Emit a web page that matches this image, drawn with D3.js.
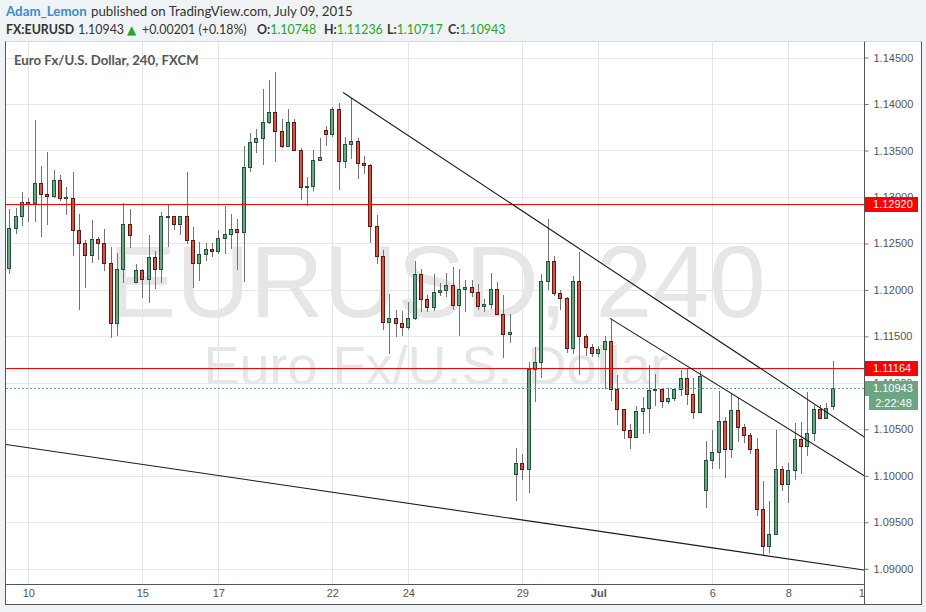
<!DOCTYPE html>
<html><head><meta charset="utf-8">
<script src="https://cdn.jsdelivr.net/npm/d3@7"></script>
<style>
body{margin:0;background:#f0f3f6;}
svg{display:block;}
</style></head><body>
<svg id="c" width="926" height="612"></svg>
<script>
// ---- data (EUR/USD, 240 min candles, FXCM) ----
const open  = [1.1224,1.1267,1.1279,1.1295,1.1293,1.1315,1.1303,1.1301,1.1318,1.1299,1.1299,1.1264,1.1251,1.1238,1.1255,1.1250,1.1229,1.1164,1.1222,1.1271,
 1.1208,1.1221,1.1212,1.1235,1.1222,1.1279,1.1280,1.1271,1.1279,1.1254,1.1229,1.1239,1.1244,1.1242,1.1256,1.1260,1.1265,1.1262,1.1332,1.1359,
 1.1363,1.1381,1.1391,1.1371,1.1355,1.1381,1.1351,1.1311,1.1312,1.1340,1.1372,1.1368,1.1395,1.1339,1.1357,1.1360,1.1337,1.1334,1.1269,1.1236,
 1.1166,1.1170,1.1164,1.1160,1.1170,1.1217,1.1190,1.1182,1.1198,1.1200,1.1205,1.1184,1.1201,1.1203,1.1198,1.1183,1.1185,1.1201,1.1174,1.1153,
 1.1002,1.1014,1.1007,1.1115,1.1122,1.1210,1.1231,1.1197,1.1191,1.1138,1.1210,1.1150,1.1139,1.1132,1.1136,1.1145,1.1093,1.1072,1.1049,1.1042,
 1.1070,1.1073,1.1092,1.1093,1.1080,1.1084,1.1093,1.1105,1.1088,1.1069,1.0985,1.1017,1.1026,1.1059,1.1029,1.1071,1.1052,1.1044,1.1029,1.0964,
 1.0925,1.0937,1.1007,1.0991,1.1006,1.1040,1.1032,1.1046,1.1072,1.1062,1.10748];
const high  = [1.1287,1.1288,1.1305,1.1299,1.1383,1.1333,1.1348,1.1329,1.1324,1.1311,1.1327,1.1282,1.1254,1.1275,1.1257,1.1265,1.1246,1.1240,1.1294,1.1287,
 1.1228,1.1222,1.1259,1.1242,1.1284,1.1292,1.1280,1.1280,1.1327,1.1268,1.1252,1.1250,1.1250,1.1264,1.1290,1.1282,1.1276,1.1355,1.1369,1.1373,
 1.1416,1.1426,1.1434,1.1384,1.1395,1.1384,1.1353,1.1321,1.1350,1.1363,1.1376,1.1397,1.1401,1.1365,1.1407,1.1363,1.1344,1.1336,1.1281,1.1243,
 1.1196,1.1178,1.1177,1.1187,1.1231,1.1222,1.1194,1.1217,1.1207,1.1218,1.1225,1.1222,1.1211,1.1211,1.1206,1.1190,1.1218,1.1209,1.1195,1.1174,
 1.1030,1.1023,1.1122,1.1139,1.1217,1.1276,1.1237,1.1200,1.1192,1.1215,1.1241,1.1153,1.1142,1.1140,1.1150,1.1169,1.1108,1.1072,1.1056,1.1075,
 1.1085,1.1119,1.1110,1.1095,1.1095,1.1095,1.1114,1.1115,1.1105,1.1113,1.1037,1.1049,1.1091,1.1063,1.1088,1.1084,1.1056,1.1046,1.1041,1.0994,
 1.0973,1.1049,1.1011,1.1014,1.1057,1.1058,1.1090,1.1076,1.1076,1.1078,1.11236];
const low   = [1.1218,1.1261,1.1270,1.1274,1.1274,1.1258,1.1271,1.1300,1.1297,1.1282,1.1238,1.1179,1.1203,1.1230,1.1233,1.1221,1.1149,1.1152,1.1209,1.1246,
 1.1208,1.1192,1.1187,1.1202,1.1208,1.1247,1.1265,1.1260,1.1251,1.1203,1.1211,1.1232,1.1236,1.1240,1.1240,1.1245,1.1222,1.1210,1.1328,1.1348,
 1.1336,1.1380,1.1339,1.1354,1.1355,1.1351,1.1298,1.1291,1.1307,1.1340,1.1356,1.1366,1.1309,1.1332,1.1342,1.1320,1.1326,1.1252,1.1229,1.1158,
 1.1132,1.1150,1.1152,1.1158,1.1169,1.1177,1.1177,1.1178,1.1195,1.1193,1.1180,1.1151,1.1177,1.1193,1.1179,1.1177,1.1181,1.1174,1.1128,1.1144,
 1.0974,1.0997,1.0983,1.1080,1.1106,1.1201,1.1194,1.1179,1.1133,1.1132,1.1110,1.1130,1.1129,1.1129,1.1094,1.1082,1.1056,1.1041,1.1030,1.1042,
 1.1046,1.1047,1.1076,1.1074,1.1078,1.1082,1.1087,1.1077,1.1062,1.1069,1.0966,1.1008,1.1008,1.0999,1.1020,1.1037,1.1036,1.1024,1.0958,1.0915,
 1.0918,1.0937,1.0985,1.0972,1.0997,1.1003,1.1022,1.1038,1.1062,1.1062,1.10717];
const close = [1.1267,1.1279,1.1295,1.1292,1.1315,1.1303,1.1301,1.1318,1.1299,1.1300,1.1264,1.1251,1.1238,1.1255,1.1250,1.1229,1.1164,1.1222,1.1271,1.1259,
 1.1221,1.1212,1.1235,1.1222,1.1279,1.1280,1.1271,1.1279,1.1254,1.1229,1.1239,1.1244,1.1242,1.1256,1.1260,1.1265,1.1262,1.1332,1.1359,1.1363,
 1.1381,1.1391,1.1371,1.1355,1.1381,1.1351,1.1311,1.1312,1.1340,1.1343,1.1368,1.1395,1.1339,1.1357,1.1360,1.1337,1.1334,1.1269,1.1236,1.1166,
 1.1170,1.1164,1.1160,1.1170,1.1217,1.1190,1.1182,1.1198,1.1200,1.1205,1.1184,1.1201,1.1203,1.1198,1.1183,1.1185,1.1201,1.1174,1.1153,1.1155,
 1.1014,1.1007,1.1115,1.1122,1.1210,1.1231,1.1197,1.1191,1.1138,1.1210,1.1150,1.1139,1.1132,1.1136,1.1145,1.1093,1.1072,1.1049,1.1042,1.1070,
 1.1073,1.1092,1.1093,1.1080,1.1084,1.1093,1.1105,1.1088,1.1069,1.1107,1.1017,1.1026,1.1059,1.1029,1.1071,1.1052,1.1044,1.1029,1.0964,1.0925,
 1.0937,1.1007,1.0991,1.1006,1.1040,1.1032,1.1046,1.1072,1.1062,1.1073,1.10943];

const dayTickIndex  = [3,21,33,51,63,81,93,111,123,135];
const dayTickLabels = ["10","15","17","22","24","29","Jul","6","8","10"];
const priceTicks = [1.09,1.095,1.10,1.105,1.11,1.115,1.12,1.125,1.13,1.135,1.14,1.145];
const levelPrices = [1.12920, 1.11164];
const lastPrice = 1.10943;
const countdown = "2:22:48";
// trend lines: [[candle index, price],[candle index, price]]
const trendLines = [
  [[52.7, 1.14124],[135, 1.10417]],
  [[94.85,1.11694],[135, 1.10000]],
  [[-1,   1.10342],[135, 1.08986]]
];

// ---- layout ----
const svg = d3.select('#c');
const plot = {l:6, r:864, t:42, b:584};
const FONT = "'Liberation Sans', Arial, sans-serif";
const UI = "Lato, 'Open Sans', sans-serif";
const fmt = d3.format('.5f');

const x = d3.scaleLinear().domain([(plot.l-9.33)/6.333, (plot.r-9.33)/6.333]).range([plot.l, plot.r]);
const y = d3.scaleLinear().domain([1.09, 1.145]).range([568.75, 57.55]);

// header
const h1 = svg.append('text').attr('y',16).attr('font-family',UI).attr('font-size',13.3);
h1.append('tspan').attr('x',6).attr('fill','#3a8ccb').attr('font-weight',700).text('Adam_Lemon');
h1.append('tspan').attr('x',91).attr('fill','#333').text('published on TradingView.com, July 09, 2015');

const h2 = svg.append('text').attr('y',34).attr('font-family',UI).attr('font-size',12.4).attr('fill','#333');
h2.append('tspan').attr('x',6).attr('font-weight',700).text('FX:EURUSD');
h2.append('tspan').attr('x',78).text(fmt(close[130]));
h2.append('tspan').attr('x',127).attr('fill','#26a626').attr('font-family',"'DejaVu Sans'").attr('font-size',12).text('▲');
h2.append('tspan').attr('x',142).text('+0.00201 (+0.18%)');
const ohlcHead = [['O:',open[130],257],['H:',high[130],324],['L:',low[130],387],['C:',close[130],448]];
ohlcHead.forEach(([k,v,px])=>{
  h2.append('tspan').attr('x',px).attr('font-weight',700).text(k);
  h2.append('tspan').attr('fill','#26a626').text(fmt(v));
});

// frame
svg.append('rect').attr('x',5.5).attr('y',41.5).attr('width',916).attr('height',563)
  .attr('fill','#fff').attr('stroke','#555');
svg.append('line').attr('x1',5.5).attr('x2',921.5).attr('y1',41.5).attr('y2',41.5).attr('stroke','#d6dae0');

const defs = svg.append('defs');
defs.append('clipPath').attr('id','pc').append('rect')
  .attr('x',plot.l).attr('y',plot.t).attr('width',plot.r-plot.l).attr('height',plot.b-plot.t);
defs.append('clipPath').attr('id','xc').append('rect')
  .attr('x',0).attr('y',plot.b).attr('width',plot.r+1).attr('height',20);

const pg = svg.append('g').attr('clip-path','url(#pc)');
// grid
pg.selectAll('line.hg').data(priceTicks).join('line').attr('class','hg')
  .attr('x1',plot.l).attr('x2',plot.r)
  .attr('y1',d=>Math.round(y(d))+0.5).attr('y2',d=>Math.round(y(d))+0.5)
  .attr('stroke','#e6e6e6');
pg.selectAll('line.vg').data(dayTickIndex).join('line').attr('class','vg')
  .attr('y1',plot.t).attr('y2',plot.b)
  .attr('x1',d=>Math.round(x(d))+0.5).attr('x2',d=>Math.round(x(d))+0.5)
  .attr('stroke','#e6e6e6');

// watermark
pg.append('text').attr('x',(plot.l+plot.r)/2+2).attr('y',317).attr('text-anchor','middle')
  .attr('font-family',FONT).attr('font-size',102).attr('fill','#e6e6e6').text('EURUSD, 240');
pg.append('text').attr('x',(plot.l+plot.r)/2+1).attr('y',384).attr('text-anchor','middle')
  .attr('font-family',FONT).attr('font-size',54).attr('fill','#e6e6e6').text('Euro Fx/U.S. Dollar');

// candles
const data = open.map((o,i)=>({i,o,h:high[i],l:low[i],c:close[i]}));
pg.selectAll('line.wick').data(data).join('line').attr('class','wick')
  .attr('x1',d=>Math.round(x(d.i))+0.5).attr('x2',d=>Math.round(x(d.i))+0.5)
  .attr('y1',d=>Math.round(y(d.h))).attr('y2',d=>Math.round(y(d.l))+1)
  .attr('stroke','#737375');
pg.selectAll('rect.body').data(data).join('rect').attr('class','body')
  .attr('x',d=>Math.round(x(d.i))-1.5).attr('width',3)
  .attr('y',d=>Math.round(y(Math.max(d.o,d.c)))+0.5)
  .attr('height',d=>Math.max(1, Math.round(y(Math.min(d.o,d.c)))-Math.round(y(Math.max(d.o,d.c)))))
  .attr('fill',d=>d.c>=d.o?'#6ba583':'#d75442')
  .attr('stroke',d=>d.c>=d.o?'#225437':'#5b1a13');

// horizontal level lines (drawings, above candles)
pg.selectAll('rect.lv').data(levelPrices).join('rect').attr('class','lv')
  .attr('x',plot.l).attr('width',plot.r-plot.l)
  .attr('y',d=>Math.round(y(d))).attr('height',1)
  .attr('fill','#ff0000');
pg.append('line').attr('x1',plot.l).attr('x2',plot.r)
  .attr('y1',Math.round(y(lastPrice))+0.5).attr('y2',Math.round(y(lastPrice))+0.5)
  .attr('stroke','#6ba583').attr('stroke-dasharray','2,2');

// trend lines
pg.selectAll('line.tl').data(trendLines).join('line').attr('class','tl')
  .attr('x1',d=>x(d[0][0])).attr('y1',d=>y(d[0][1]))
  .attr('x2',d=>x(d[1][0])).attr('y2',d=>y(d[1][1]))
  .attr('stroke','#1a1a1a').attr('stroke-width',1.1);

// chart title
svg.append('text').attr('x',14).attr('y',65).attr('font-family',UI).attr('font-size',13.2)
  .attr('font-weight',700).attr('fill','#555').text('Euro Fx/U.S. Dollar, 240, FXCM');

// axes
const ya = svg.append('g').attr('transform',`translate(${plot.r+0.5},0)`)
  .call(d3.axisRight(y).tickValues(priceTicks).tickFormat(fmt).tickSize(4).tickPadding(5).tickSizeOuter(0));
ya.select('.domain').remove();
ya.selectAll('line').attr('stroke','#777');
ya.selectAll('text').attr('font-family',FONT).attr('font-size',11).attr('fill','#555');

const xaWrap = svg.append('g').attr('clip-path','url(#xc)');
const xa = xaWrap.append('g').attr('transform',`translate(0,${plot.b+0.5})`)
  .call(d3.axisBottom(x).tickValues(dayTickIndex).tickFormat((d,i)=>dayTickLabels[i]).tickSize(0).tickPadding(5));
xa.select('.domain').remove();
xa.selectAll('text').attr('font-family',FONT).attr('font-size',11).attr('fill','#555')
  .attr('font-weight',(d,i)=>dayTickLabels[i]==='Jul'?700:400);

svg.append('line').attr('x1',plot.l-0.5).attr('x2',plot.r+0.5).attr('y1',plot.b+0.5).attr('y2',plot.b+0.5).attr('stroke','#555');
svg.append('line').attr('x1',plot.r+0.5).attr('x2',plot.r+0.5).attr('y1',41.5).attr('y2',604.5).attr('stroke','#555');

// price label boxes
const boxes = [
  {p:levelPrices[0], bg:'#ff0000'},
  {p:levelPrices[1], bg:'#ff0000'},
  {p:lastPrice, bg:'#6ba583'}
];
const bg = svg.append('g');
boxes.forEach(b=>{
  const yc = Math.round(y(b.p));
  bg.append('rect').attr('x',plot.r+1).attr('y',yc-7).attr('width',53).attr('height',15).attr('fill',b.bg);
  bg.append('text').attr('x',plot.r+9).attr('y',yc).attr('dy','0.35em').attr('font-family',FONT)
    .attr('font-size',11).attr('fill','#fff').text(fmt(b.p));
});
{
  const yc = Math.round(y(lastPrice))+15;
  bg.append('rect').attr('x',plot.r+5).attr('y',yc-7).attr('width',49).attr('height',14).attr('fill','#6ba583');
  bg.append('text').attr('x',plot.r+29.5).attr('y',yc).attr('dy','0.35em').attr('text-anchor','middle')
    .attr('font-family',FONT).attr('font-size',11).attr('fill','#fff').text(countdown);
}
</script>
</body></html>
